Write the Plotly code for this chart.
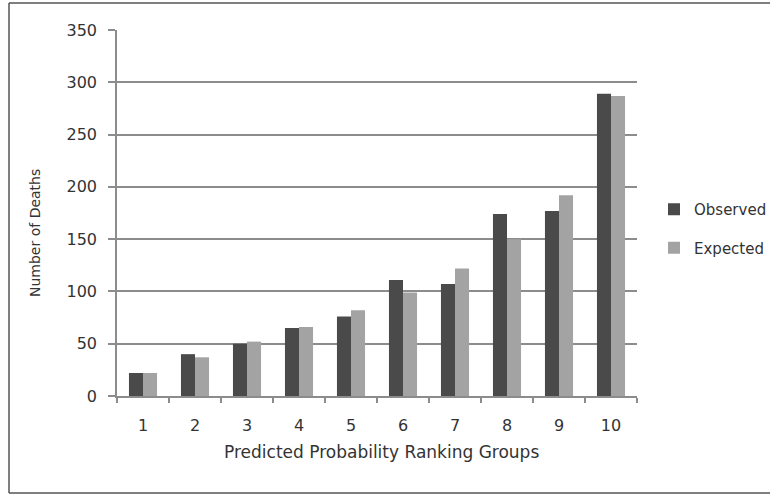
import plotly.graph_objects as go

groups = ["1", "2", "3", "4", "5", "6", "7", "8", "9", "10"]
observed = [22, 40, 50, 65, 76, 111, 107, 174, 177, 289]
expected = [22, 37, 52, 66, 82, 99, 122, 150, 192, 287]
y_ticks = [0, 50, 100, 150, 200, 250, 300, 350]

W, H = 770, 495
L, R, T, B = 117, 637, 30, 396

FONT = "DejaVu Sans"
TXT = "#333333"


def px_x(p):
    return (p - L) / (R - L)


def px_y(p):
    return (B - p) / (B - T)


fig = go.Figure()
fig.add_trace(go.Bar(x=groups, y=observed, name="Observed", legendgroup="o",
                     marker=dict(color="#4a4a4a", line=dict(width=0))))
fig.add_trace(go.Bar(x=groups, y=expected, name="Expected", legendgroup="e",
                     marker=dict(color="#a3a3a3", line=dict(width=0))))

frame = dict(color="#555555", width=1.5)
fig.update_layout(
    width=W, height=H,
    margin=dict(l=L, r=W - R, t=T, b=H - B, pad=0, autoexpand=False),
    paper_bgcolor="white", plot_bgcolor="white",
    barmode="group", bargap=0.46, bargroupgap=0,
    font=dict(family=FONT, size=16, color=TXT),
    showlegend=True,
    legend=dict(x=px_x(654), y=px_y(193), xanchor="left", yanchor="top",
                font=dict(family=FONT, size=15, color=TXT),
                itemsizing="constant", itemwidth=30, tracegroupgap=16,
                bgcolor="rgba(0,0,0,0)"),
    xaxis=dict(type="category", showgrid=False, showline=True, linecolor="#8c8c8c", linewidth=1.5,
               ticks="outside", tickson="boundaries", ticklen=5, tickcolor="#8c8c8c", tickwidth=1.5,
               ticklabelstandoff=14,
               tickfont=dict(family=FONT, size=16, color=TXT), zeroline=False),
    yaxis=dict(range=[0, 350], tickvals=y_ticks, showgrid=True, gridcolor="#8c8c8c", gridwidth=1.5,
               showline=True, linecolor="#8c8c8c", linewidth=1.5,
               ticks="outside", ticklen=7, tickcolor="#8c8c8c", tickwidth=1.5,
               ticklabelstandoff=8,
               tickfont=dict(family=FONT, size=16, color=TXT), zeroline=False),
    annotations=[
        dict(text="Number of Deaths", textangle=-90, xref="paper", yref="paper",
             x=px_x(35), y=px_y(233), xanchor="center", yanchor="middle", showarrow=False,
             font=dict(family=FONT, size=14, color=TXT)),
        dict(text="Predicted Probability Ranking Groups", xref="paper", yref="paper",
             x=px_x(381), y=px_y(452), xanchor="center", yanchor="middle", showarrow=False,
             font=dict(family=FONT, size=17, color=TXT)),
    ],
    shapes=[
        dict(type="line", xref="paper", yref="paper", x0=px_x(9), x1=px_x(9),
             y0=px_y(493), y1=px_y(3), line=frame, layer="below"),
        dict(type="line", xref="paper", yref="paper", x0=px_x(9), x1=px_x(800),
             y0=px_y(3), y1=px_y(3), line=frame, layer="below"),
        dict(type="line", xref="paper", yref="paper", x0=px_x(9), x1=px_x(800),
             y0=px_y(493), y1=px_y(493), line=frame, layer="below"),
    ],
)

fig.write_html("out.html", config={"displayModeBar": False},
               post_script="document.body.style.margin='0';")
